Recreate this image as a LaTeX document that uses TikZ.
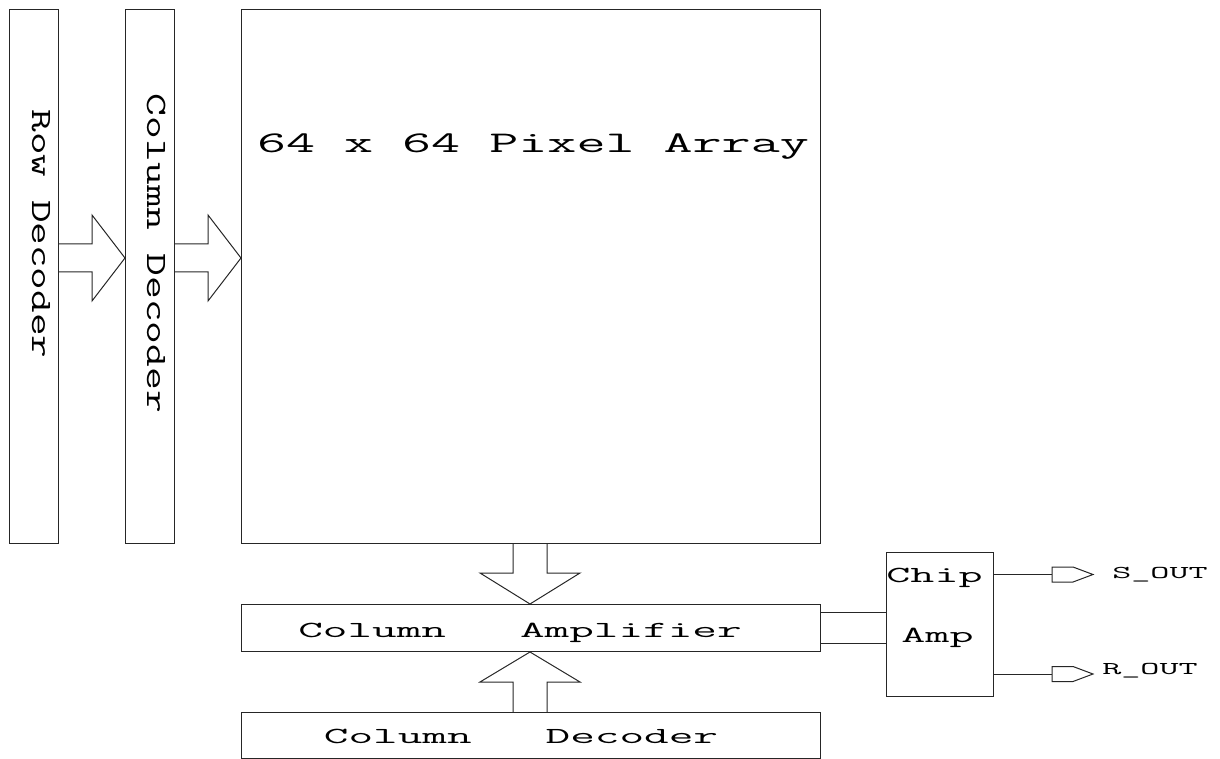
\documentclass[tikz,border=0pt]{standalone}
\usepackage{graphicx}
\newcommand{\wx}[2]{\scalebox{#1}[1]{#2}}
\begin{document}
\begin{tikzpicture}[x=1pt,y=-1pt,
  box/.style={draw=black!85,line width=1pt,rectangle,inner sep=0pt,anchor=north west},
  blk/.style={draw=black!85,line width=1pt,line join=miter},
  wire/.style={draw=black!85,line width=1pt},
  lbl/.style={inner sep=0pt,anchor=base},
  pixtxt/.style={lbl,font=\ttfamily\fontsize{30}{32}\selectfont},
  widetxt/.style={lbl,font=\ttfamily\fontsize{23}{26}\selectfont},
  porttxt/.style={lbl,font=\ttfamily\fontsize{18}{20}\selectfont},
  verttxt/.style={lbl,rotate=-90,font=\ttfamily\fontsize{29.5}{32}\selectfont}]
\useasboundingbox (0,0) rectangle (1220,759);
% blocks
\node[box,minimum width=49pt,minimum height=534pt] (rowdec) at (9,9) {};
\node[box,minimum width=49pt,minimum height=534pt] (coldecv) at (125,9) {};
\node[box,minimum width=579pt,minimum height=534pt] (pix) at (241,9) {};
\node[box,minimum width=579pt,minimum height=47pt] (colamp) at (241,604) {};
\node[box,minimum width=579pt,minimum height=46pt] (coldec) at (241,712) {};
\node[box,minimum width=107pt,minimum height=144pt] (chip) at (886,552) {};
% labels
\node[verttxt] (trow) at (32,234) {\wx{1.49}{Row Decoder}};
\node[verttxt] (tcolv) at (147,253.5) {\wx{1.5}{Column Decoder}};
\node[pixtxt] (tpix) at (533,153) {\wx{1.88}{64 x 64 Pixel Array}};
\node[widetxt] (tamp) at (520,637) {\wx{2.08}{Column\ \ \ Amplifier}};
\node[widetxt] (tdec) at (521,743) {\wx{2.08}{Column\ \ \ Decoder}};
\node[widetxt] (tchip) at (934.5,582) {\wx{2.03}{Chip}};
\node[widetxt] (tamp2) at (937.5,642) {\wx{2.03}{Amp}};
\node[porttxt] (ts) at (1160,578) {\wx{2.06}{S\_OUT}};
\node[porttxt] (tr) at (1150,674) {\wx{2.06}{R\_OUT}};
% block arrows
\draw[blk] (rowdec.east |- 0,244) -- (92,244) -- (92,215) -- (coldecv.west |- 0,258)
  -- (92,301) -- (92,272) -- (rowdec.east |- 0,272);
\draw[blk] (coldecv.east |- 0,244) -- (208,244) -- (208,215) -- (pix.west |- 0,258)
  -- (208,301) -- (208,272) -- (coldecv.east |- 0,272);
\draw[blk] (pix.south -| 513,0) -- (513,573) -- (480,573) -- (colamp.north -| 530,0)
  -- (580,573) -- (547,573) -- (pix.south -| 547,0);
\draw[blk] (coldec.north -| 513,0) -- (513,682) -- (480,682) -- (colamp.south -| 530,0)
  -- (580,682) -- (547,682) -- (coldec.north -| 547,0);
% wires
\draw[wire] (colamp.east |- 0,612) -- (chip.west |- 0,612);
\draw[wire] (colamp.east |- 0,643) -- (chip.west |- 0,643);
\coordinate (sport) at (1052,574.5);
\coordinate (rport) at (1052,674);
\draw[wire] (chip.east |- sport) -- (sport);
\draw[wire] (chip.east |- rport) -- (rport);
\draw[blk] (sport) -- ++(0,-7.5) -- ++(21,0) -- ++(20,7.5) -- ++(-20,7.5) -- ++(-21,0) -- cycle;
\draw[blk] (rport) -- ++(0,-7.5) -- ++(21,0) -- ++(20,7.5) -- ++(-20,7.5) -- ++(-21,0) -- cycle;
\end{tikzpicture}
\end{document}
